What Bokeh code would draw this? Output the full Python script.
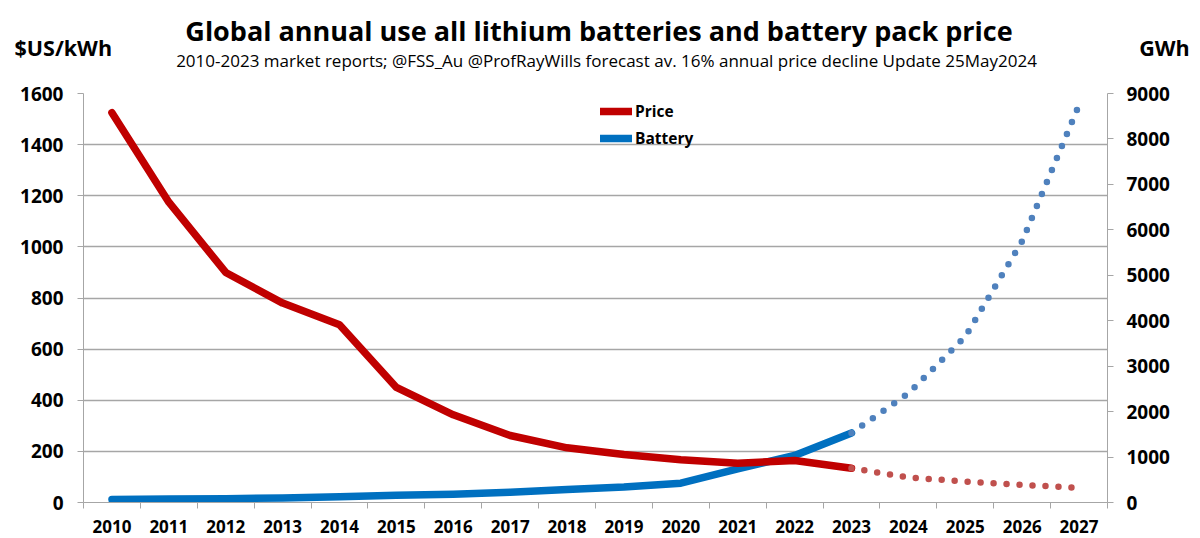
from bokeh.plotting import figure
from bokeh.layouts import column
from bokeh.models import (Range1d, LinearAxis, FixedTicker, Legend, LegendItem, Label)
from bokeh.embed import file_html
from bokeh.resources import INLINE

# ---- data ----
years_hist = [2010, 2011, 2012, 2013, 2014, 2015, 2016, 2017, 2018, 2019, 2020, 2021, 2022, 2023]
years_fc = [2023, 2024, 2025, 2026, 2027]
price_hist = [1525, 1175, 900, 780, 695, 450, 343, 262, 214, 188, 167, 154, 164, 134]
price_fc = [134, 98, 82, 69, 57]
battery_hist = [65, 75, 85, 100, 125, 160, 180, 225, 285, 340, 425, 740, 1035, 1530]
battery_fc = [1530, 2400, 3650, 5750, 8750]
all_years = list(range(2010, 2028))
price_ticks = [0, 200, 400, 600, 800, 1000, 1200, 1400, 1600]
gwh_ticks = [0, 1000, 2000, 3000, 4000, 5000, 6000, 7000, 8000, 9000]

title_text = "Global annual use all lithium batteries and battery pack price"
subtitle_text = ("2010-2023 market reports; @FSS_Au @ProfRayWills forecast av. 16% annual "
                 "price decline Update 25May2024")
left_unit = "$US/kWh"
right_unit = "GWh"

FONT = "Open Sans"
GRID = "#A6A6A6"

# ---- header (titles and unit labels) ----
HEAD_H = 80
head = figure(width=1200, height=HEAD_H, output_backend="svg", toolbar_location=None,
              x_range=Range1d(0, 1200), y_range=Range1d(HEAD_H, 0),
              min_border=0, min_border_left=0, min_border_right=0,
              min_border_top=0, min_border_bottom=0)
head.title = None
head.axis.visible = False
head.grid.visible = False
head.outline_line_color = None
head.background_fill_color = "white"
head.border_fill_color = "white"

head.add_layout(Label(x=598.5, y=30, text=title_text, text_font=FONT,
                      text_font_style="bold", text_font_size="27px", text_align="center",
                      text_baseline="alphabetic", text_color="black"))
head.add_layout(Label(x=606, y=59.7, text=subtitle_text, text_font=FONT,
                      text_font_style="normal", text_font_size="17px", text_align="center",
                      text_baseline="alphabetic", text_color="black"))
head.add_layout(Label(x=14, y=47.3, text=left_unit, text_font=FONT,
                      text_font_style="bold", text_font_size="21.5px", text_align="left",
                      text_baseline="alphabetic", text_color="black"))
head.add_layout(Label(x=1164, y=47.3, text=right_unit, text_font=FONT,
                      text_font_style="bold", text_font_size="21.5px", text_align="center",
                      text_baseline="alphabetic", text_color="black"))

# ---- main chart ----
p = figure(width=1200, height=538 - HEAD_H, output_backend="svg", toolbar_location=None,
           x_range=Range1d(2009.5, 2027.5), y_range=Range1d(0, 1600),
           min_border_left=83, min_border_right=93, min_border_top=13, min_border_bottom=36)
p.title = None
p.outline_line_color = None
p.background_fill_color = "white"
p.border_fill_color = "white"

# keep the two stacked figures from aligning their frames
for fig in (head, p):
    try:
        fig.frame_align = False
    except AttributeError:
        pass

p.extra_y_ranges = {"gwh": Range1d(0, 9000)}

# x axis
xa = p.xaxis[0]
xa.ticker = FixedTicker(ticks=all_years, minor_ticks=[y - 0.5 for y in all_years] + [2027.5])
xa.major_tick_out = 0
xa.major_tick_in = 0
xa.minor_tick_out = 6
xa.minor_tick_in = 0
xa.minor_tick_line_color = GRID
xa.axis_line_color = GRID
xa.major_label_text_font = FONT
xa.major_label_text_font_style = "bold"
xa.major_label_text_font_size = "17px"
xa.major_label_text_color = "black"
xa.major_label_standoff = 11

# left axis
ya = p.yaxis[0]
ya.ticker = FixedTicker(ticks=price_ticks)
ya.major_tick_out = 6
ya.major_tick_in = 0
ya.minor_tick_out = 0
ya.minor_tick_in = 0
ya.major_tick_line_color = GRID
ya.axis_line_color = GRID
ya.major_label_text_font = FONT
ya.major_label_text_font_style = "bold"
ya.major_label_text_font_size = "19px"
ya.major_label_text_color = "black"
ya.major_label_standoff = 14

# right axis
ra = LinearAxis(y_range_name="gwh", ticker=FixedTicker(ticks=gwh_ticks))
ra.major_tick_out = 6
ra.major_tick_in = 0
ra.minor_tick_out = 0
ra.minor_tick_in = 0
ra.major_tick_line_color = GRID
ra.axis_line_color = GRID
ra.major_label_text_font = FONT
ra.major_label_text_font_style = "bold"
ra.major_label_text_font_size = "19px"
ra.major_label_text_color = "black"
ra.major_label_standoff = 13
p.add_layout(ra, "right")

p.xgrid.visible = False
p.ygrid.ticker = FixedTicker(ticks=price_ticks)
p.ygrid.grid_line_color = GRID
p.ygrid.grid_line_width = 1.3

# series
bat_solid = p.line(years_hist, battery_hist, y_range_name="gwh", line_color="#0070C0",
                   line_width=7.5, line_join="round", line_cap="round")
p.line(years_fc, battery_fc, y_range_name="gwh", line_color="#4F81BD",
       line_width=6.5, line_dash="0 13", line_cap="round")
price_solid = p.line(years_hist, price_hist, line_color="#C00000",
                     line_width=7.5, line_join="round", line_cap="round")
p.line(years_fc, price_fc, line_color="#C0504D",
       line_width=6.5, line_dash="0 13", line_cap="round")

# legend
legend = Legend(items=[LegendItem(label="Price", renderers=[price_solid]),
                       LegendItem(label="Battery", renderers=[bat_solid])],
                location=(517, 353), orientation="vertical",
                glyph_width=32, glyph_height=20, label_height=20, spacing=5,
                label_standoff=3, padding=0, margin=0,
                border_line_color=None, background_fill_alpha=0,
                label_text_font=FONT, label_text_font_style="bold",
                label_text_font_size="15.5px", label_text_color="black")
p.add_layout(legend, "center")

layout = column(head, p, spacing=0)
open("out.html", "w").write(file_html(layout, INLINE))
